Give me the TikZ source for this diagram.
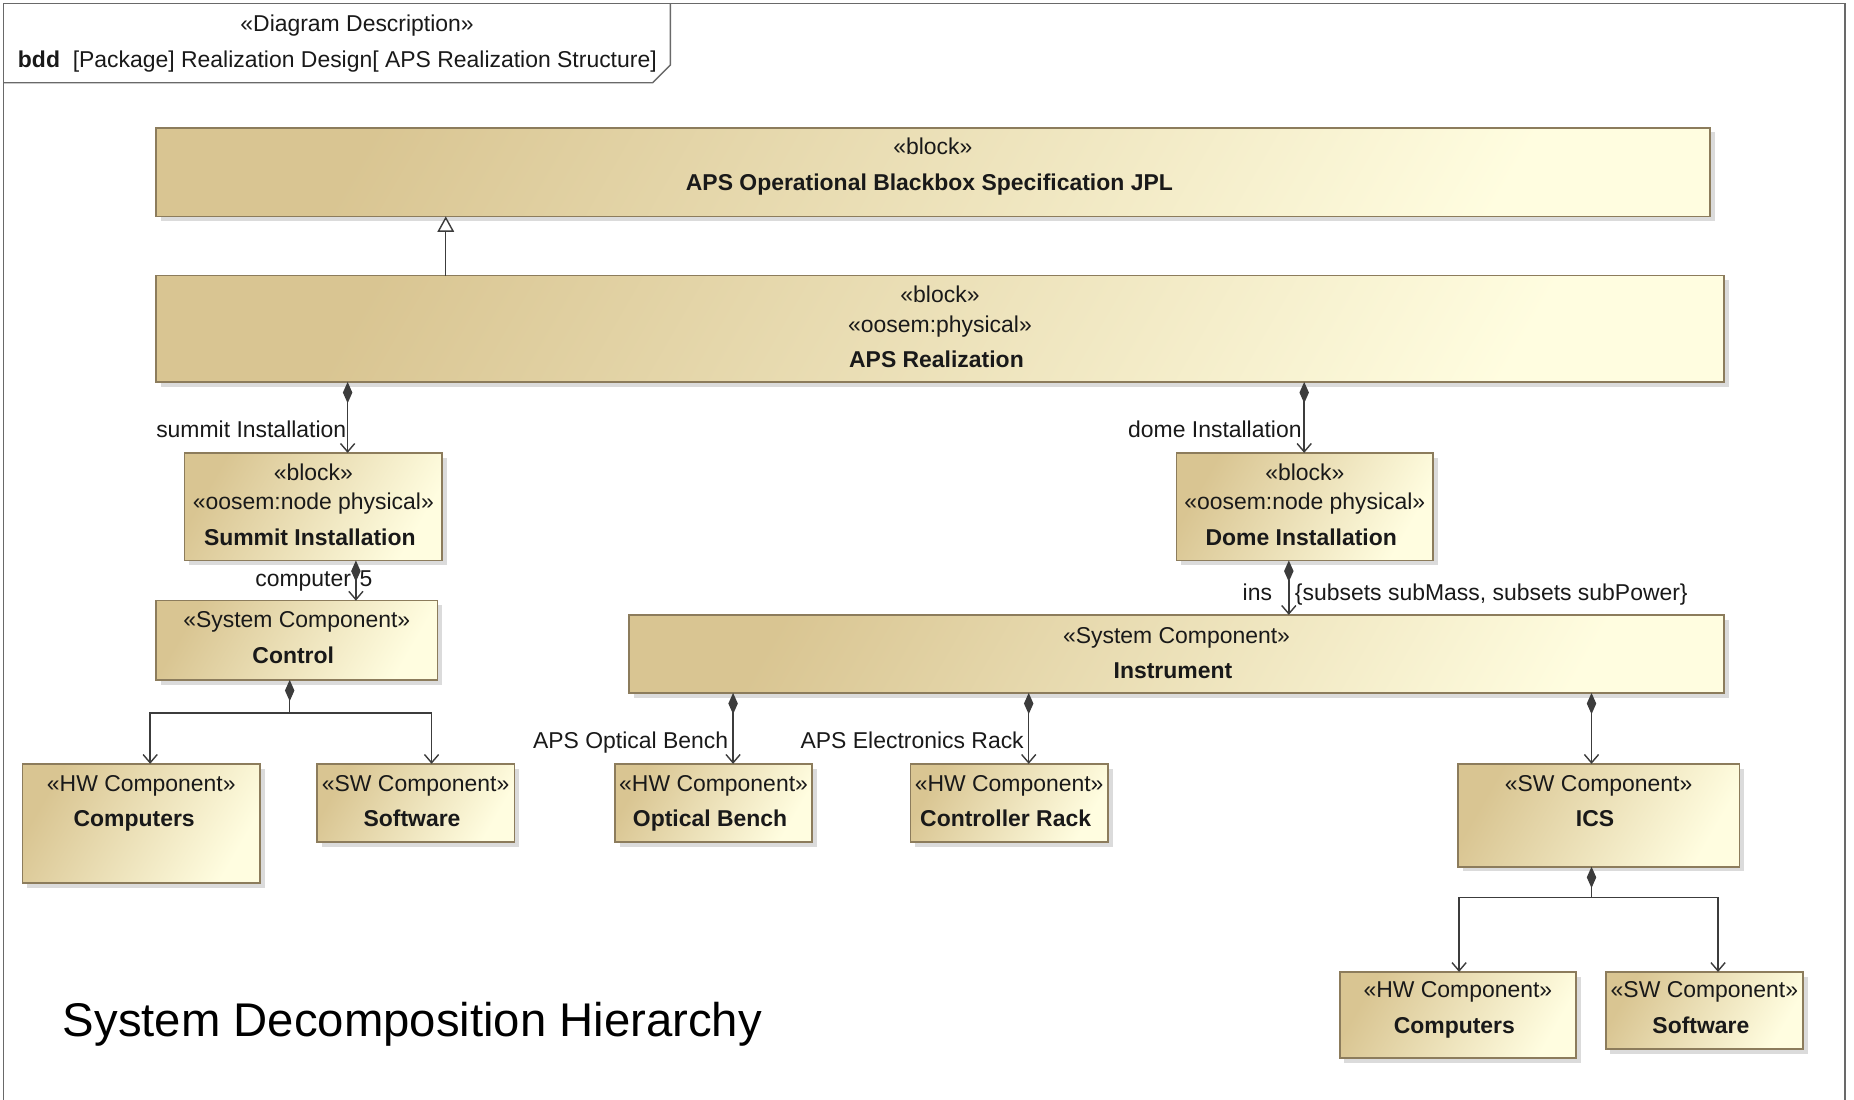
\documentclass[tikz,border=0pt]{standalone}
\usepackage{fontspec}
\setmainfont{Liberation Sans}
\usetikzlibrary{arrows.meta,shadows}

\definecolor{blkdark}{RGB}{217,197,146}
\definecolor{blklight}{RGB}{255,253,224}
\definecolor{blkedge}{RGB}{140,124,92}
\definecolor{wire}{RGB}{60,60,60}
\definecolor{framec}{RGB}{105,105,105}
\definecolor{ink}{RGB}{25,25,25}

\tikzset{
  umlblock/.style={draw=blkedge, line width=1.4pt, inner sep=0pt, outer sep=0pt,
    top color=blkdark, bottom color=blklight, shading angle=60,
    drop shadow={shadow xshift=4pt, shadow yshift=-4pt, fill=black!28}},
  txt/.style={inner sep=0pt, text=ink, font=\fontsize{19.4}{23}\selectfont, anchor=base},
  ttl/.style={txt, xshift=-3pt, font=\fontsize{19.4}{23}\selectfont\bfseries},
  lbl/.style={inner sep=0pt, text=ink, font=\fontsize{19.4}{23}\selectfont},
  conn/.style={draw=wire, line width=1.2pt},
  comp/.style={conn, {Diamond[length=18pt,width=8pt]}-{Straight Barb[length=7pt,width=12pt]}},
  compstart/.style={conn, {Diamond[length=18pt,width=8pt]}-},
  part/.style={conn, -{Straight Barb[length=7pt,width=12pt]}},
  gen/.style={conn, -{Triangle[open,length=13pt,width=14pt,fill=white]}},
}

% block with corners (x1,y1) and (x2,y2), y counted downwards
\newcommand\umlbox[5]{%
  \node[umlblock, minimum width={(#4-#2)*1pt}, minimum height={(#5-#3)*1pt}]
    (#1) at ({(#2+#4)/2},{(#3+#5)/2}) {};}

\begin{document}
\begin{tikzpicture}[x=1pt, y=-1pt]
\useasboundingbox (0,0) rectangle (1568,930);

% diagram frame and name tab
\draw[framec, line width=1.6pt] (3,940) -- (3,3) -- (1560,3) -- (1560,940);
\draw[framec, line width=1.2pt] (3,70) -- (552,70) -- (567,55) -- (567,3);
\node[txt] (tabstereo) at (302,27) {«Diagram Description»};
\node[txt, anchor=base west] (tabname) at (15,57)
  {\textbf{bdd}\ \ [Package] Realization Design[ APS Realization Structure]};

% blocks
\umlbox{spec}{132}{108}{1446}{183}
\umlbox{real}{132}{233}{1458}{323}
\umlbox{summit}{156}{383}{374}{474}
\umlbox{dome}{995}{383}{1212}{474}
\umlbox{control}{132}{508}{370}{575}
\umlbox{compL}{19}{646}{220}{747}
\umlbox{softL}{268}{646}{435}{712}
\umlbox{instr}{532}{520}{1458}{586}
\umlbox{bench}{520}{646}{687}{712}
\umlbox{rack}{770}{646}{937}{712}
\umlbox{ics}{1233}{646}{1471}{733}
\umlbox{compR}{1133}{822}{1333}{895}
\umlbox{softR}{1358}{822}{1525}{887}

% block texts
\node[txt] (spec-s) at (spec.north |- 0,131) {«block»};
\node[ttl] (spec-n) at (spec.north |- 0,161) {APS Operational Blackbox Specification JPL};

\node[txt] (real-s1) at (real.north |- 0,256) {«block»};
\node[txt] (real-s2) at (real.north |- 0,281) {«oosem:physical»};
\node[ttl] (real-n) at (real.north |- 0,311) {APS Realization};

\node[txt] (summit-s1) at (summit.north |- 0,406) {«block»};
\node[txt] (summit-s2) at (summit.north |- 0,431) {«oosem:node physical»};
\node[ttl] (summit-n) at (summit.north |- 0,461) {Summit Installation};

\node[txt] (dome-s1) at (dome.north |- 0,406) {«block»};
\node[txt] (dome-s2) at (dome.north |- 0,431) {«oosem:node physical»};
\node[ttl] (dome-n) at (dome.north |- 0,461) {Dome Installation};

\node[txt] (control-s) at (control.north |- 0,531) {«System Component»};
\node[ttl] (control-n) at (control.north |- 0,561) {Control};

\node[txt] (compL-s) at (compL.north |- 0,669) {«HW Component»};
\node[ttl, xshift=-3pt] (compL-n) at (compL.north |- 0,699) {Computers};

\node[txt] (softL-s) at (softL.north |- 0,669) {«SW Component»};
\node[ttl] (softL-n) at (softL.north |- 0,699) {Software};

\node[txt] (instr-s) at (instr.north |- 0,544) {«System Component»};
\node[ttl] (instr-n) at (instr.north |- 0,574) {Instrument};

\node[txt] (bench-s) at (bench.north |- 0,669) {«HW Component»};
\node[ttl] (bench-n) at (bench.north |- 0,699) {Optical Bench};

\node[txt] (rack-s) at (rack.north |- 0,669) {«HW Component»};
\node[ttl] (rack-n) at (rack.north |- 0,699) {Controller Rack};

\node[txt] (ics-s) at (ics.north |- 0,669) {«SW Component»};
\node[ttl] (ics-n) at (ics.north |- 0,699) {ICS};

\node[txt] (compR-s) at (compR.north |- 0,844) {«HW Component»};
\node[ttl] (compR-n) at (compR.north |- 0,874) {Computers};

\node[txt] (softR-s) at (softR.north |- 0,844) {«SW Component»};
\node[ttl] (softR-n) at (softR.north |- 0,874) {Software};

% generalization
\draw[gen] (real.north -| 377,0) -- (spec.south -| 377,0);

% compositions
\draw[comp] (real.south -| 294,0) -- (summit.north -| 294,0);
\node[lbl, anchor=base east] (summit-role) at (293,370) {summit Installation};

\draw[comp] (real.south -| 1103,0) -- (dome.north -| 1103,0);
\node[lbl, anchor=base east] (dome-role) at (1101,370) {dome Installation};

\draw[comp] (summit.south -| 301,0) -- (control.north -| 301,0);
\node[lbl, anchor=base east] (control-role) at (297,496) {computer};
\node[lbl, anchor=base west] (control-mult) at (304,496) {5};

\draw[comp] (dome.south -| 1090,0) -- (instr.north -| 1090,0);
\node[lbl, anchor=base east] (instr-role) at (1076,508) {ins};
\node[lbl, anchor=base west] (instr-cons) at (1095,508) {\{subsets subMass, subsets subPower\}};

\draw[comp] (instr.south -| 620,0) -- (bench.north -| 620,0);
\node[lbl, anchor=base east] (bench-role) at (616,633) {APS Optical Bench};

\draw[comp] (instr.south -| 870,0) -- (rack.north -| 870,0);
\node[lbl, anchor=base east] (rack-role) at (866,633) {APS Electronics Rack};

\draw[comp] (instr.south -| 1346,0) -- (ics.north -| 1346,0);

% forked compositions
\coordinate (ctlfork) at (245,603);
\draw[compstart] (control.south -| ctlfork) -- (ctlfork);
\draw[part] (ctlfork) -| (compL.north -| 127,0);
\draw[part] (ctlfork) -| (softL.north -| 365,0);

\coordinate (icsfork) at (1346,759);
\draw[compstart] (ics.south -| icsfork) -- (icsfork);
\draw[part] (icsfork) -| (compR.north -| 1234,0);
\draw[part] (icsfork) -| (softR.north -| 1453,0);

% caption
\node[inner sep=0pt, anchor=base west, text=black, font=\fontsize{40}{48}\selectfont]
  (caption) at (53,877) {System Decomposition Hierarchy};
\end{tikzpicture}
\end{document}
